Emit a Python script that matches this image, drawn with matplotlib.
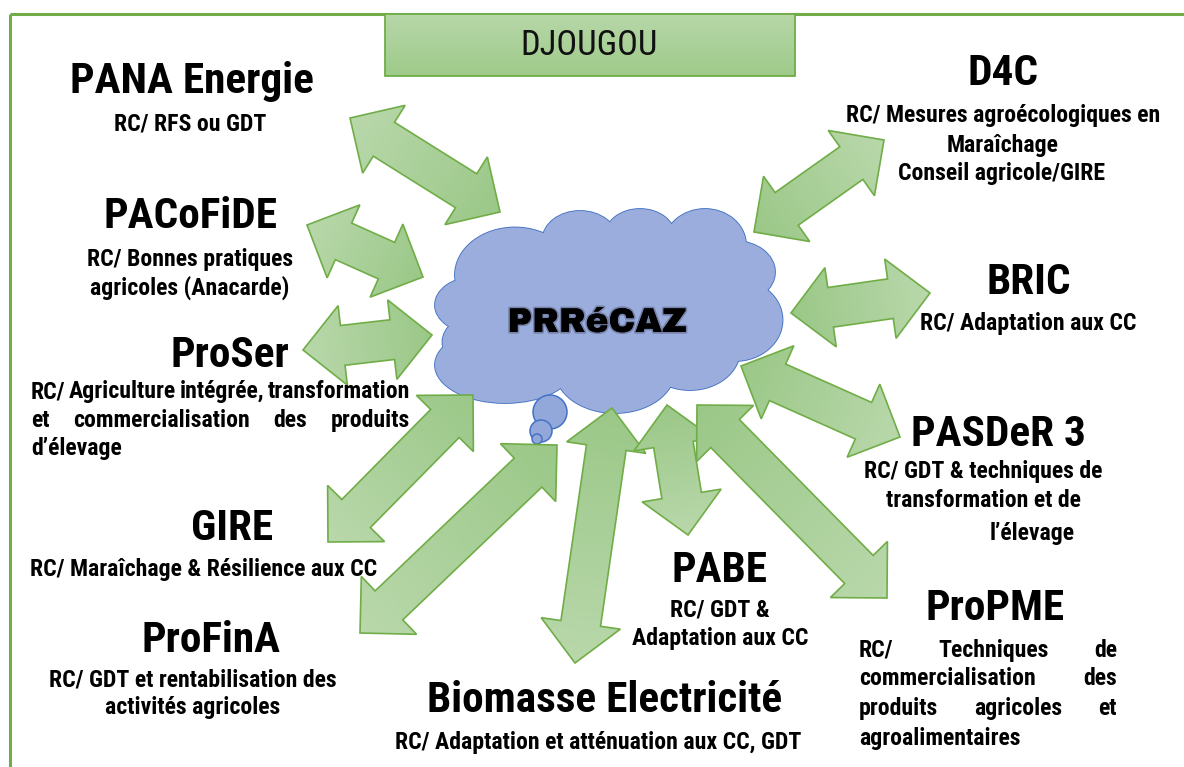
import numpy as np
import matplotlib
matplotlib.use("Agg")
import matplotlib.pyplot as plt
import matplotlib.patheffects as pe
from matplotlib.patches import Polygon, Ellipse, Circle
from matplotlib import font_manager

# ---- data -------------------------------------------------------------
hub_name = "PRRéCAZ"
region_name = "DJOUGOU"

partners = ["PANA Energie", "PACoFiDE", "ProSer", "GIRE", "ProFinA",
            "Biomasse Electricité", "PABE", "ProPME", "PASDeR 3", "BRIC", "D4C"]

descriptions = [
    ["RC/ RFS ou GDT"],
    ["RC/ Bonnes pratiques", "agricoles (Anacarde)"],
    ["RC/ Agriculture intégrée, transformation",
     "et commercialisation des produits", "d’élevage"],
    ["RC/ Maraîchage & Résilience aux CC"],
    ["RC/ GDT et rentabilisation des", "activités agricoles"],
    ["RC/ Adaptation et atténuation aux CC, GDT"],
    ["RC/ GDT &", "Adaptation aux CC"],
    ["RC/ Techniques de", "commercialisation des",
     "produits agricoles et", "agroalimentaires"],
    ["RC/ GDT & techniques de", "transformation et de", "l’élevage"],
    ["RC/ Adaptation aux CC"],
    ["RC/ Mesures agroécologiques en", "Maraîchage", "Conseil agricole/GIRE"],
]

# layout (pixel coordinates, y downwards, text given by baseline)
name_pos = [(192, 93), (190, 228), (230, 367), (232, 540), (211, 652),
            (605, 712), (720, 582), (995, 620), (998, 446), (1029, 294), (1003, 85)]
desc_x = [[190], [190, 190], None, [204], [193, 193], [598], [720, 720], None,
          [983, 983, 1032], [1028], [1003, 1003, 1002]]
desc_y = [[130], [266, 295], [398, 427, 455], [576], [686, 714], [749],
          [617, 645], [657, 685, 715, 745], [478, 507, 540], [330], [122, 152, 180]]
justify_span = {2: (31, 410), 7: (859, 1117)}

# arrows: outer tip -> tip near the cloud
arrow_outer = [(350, 118), (307, 225), (303, 350), (328, 542), (360, 633),
               (575, 663), (688, 535), (887, 598), (900, 437), (930, 293), (884, 140)]
arrow_inner = [(500, 212), (423, 277), (432, 335), (473, 395), (557, 445),
               (612, 408), (667, 405), (697, 405), (741, 366), (791, 313), (754, 232)]

# cloud lobes (cx, cy, w, h)
cloud_lobes = [(475, 305, 80, 56), (515, 275, 120, 95), (580, 240, 75, 58),
               (640, 236, 70, 54), (705, 245, 82, 72), (735, 272, 80, 62),
               (735, 320, 95, 82), (690, 350, 100, 80), (615, 370, 120, 86),
               (505, 365, 140, 76), (480, 342, 75, 56), (610, 305, 240, 150)]
bubbles = [(550, 412, 17), (541, 431, 11), (537, 439, 5)]

# ---- fonts ------------------------------------------------------------
installed = {f.name for f in font_manager.fontManager.ttflist}


def pick(cands):
    for c in cands:
        if c in installed:
            return c
    return "DejaVu Sans"


NARROW = [pick(["Liberation Sans Narrow", "Arial Narrow", "Roboto Condensed",
                "Archivo Narrow", "PT Sans Narrow", "Fira Sans Condensed",
                "IBM Plex Sans Condensed", "Liberation Sans"]), "DejaVu Sans"]
HEAVY = [pick(["Arial Black", "Archivo Black", "DejaVu Sans"]), "DejaVu Sans"]

GREEN_EDGE = "#70ad47"
LIGHT = np.array([185, 216, 171]) / 255
DARK = np.array([155, 200, 136]) / 255

fig = plt.figure(figsize=(11.84, 7.67), dpi=100)
ax = fig.add_axes([0, 0, 1, 1])
W, H = 1184, 767
ax.set_xlim(0, W)
ax.set_ylim(H, 0)
renderer = fig.canvas.get_renderer()


def fit_size(s, target_px, family, weight):
    t = ax.text(0, 0, s, fontsize=20, family=family, fontweight=weight)
    w = t.get_window_extent(renderer).width
    t.remove()
    return 20 * target_px / w


title_fs = fit_size("PANA Energie", 243, NARROW, "bold")
desc_fs = fit_size("RC/ Mesures agroécologiques en", 314, NARROW, "bold")
region_fs = fit_size(region_name, 137, NARROW, "normal")
hub_fs = fit_size(hub_name, 179, HEAVY, "heavy")


def gradient_fill(patch, p_from, p_to, c_from, c_to, z):
    xy = np.asarray(patch.get_xy())
    x0, y0 = xy.min(axis=0) - 2
    x1, y1 = xy.max(axis=0) + 2
    xs = np.linspace(x0, x1, 80)
    ys = np.linspace(y0, y1, 80)
    X, Y = np.meshgrid(xs, ys)
    d = np.array(p_to, float) - np.array(p_from, float)
    t = ((X - p_from[0]) * d[0] + (Y - p_from[1]) * d[1]) / (d @ d)
    t = np.clip(t, 0, 1)[..., None]
    img = c_from * (1 - t) + c_to * t
    im = ax.imshow(img, extent=(x0, x1, y0, y1), origin="lower",
                   interpolation="bilinear", zorder=z)
    im.set_clip_path(patch)


def arrow_polygon(p1, p2, hw=40, sw=20, hl=40):
    p1 = np.array(p1, float)
    p2 = np.array(p2, float)
    d = (p2 - p1) / np.linalg.norm(p2 - p1)
    n = np.array([-d[1], d[0]])
    b1 = p1 + d * hl
    b2 = p2 - d * hl
    return [p1, b1 + n * hw, b1 + n * sw, b2 + n * sw, b2 + n * hw,
            p2, b2 - n * hw, b2 - n * sw, b1 - n * sw, b1 - n * hw]


# frame
ax.plot([10, W], [14, 14], color=GREEN_EDGE, lw=2.2, zorder=1, solid_capstyle="butt")
ax.plot([10, 10], [14, H], color=GREEN_EDGE, lw=2.2, zorder=1, solid_capstyle="butt")

# title banner
banner = Polygon([(385, 14), (795, 14), (795, 76), (385, 76)], closed=True,
                 facecolor="none", edgecolor=GREEN_EDGE, lw=1.3, zorder=2.5)
ax.add_patch(banner)
gradient_fill(banner, (590, 14), (590, 76), np.array([183, 215, 168]) / 255,
              np.array([158, 203, 138]) / 255, 2)
ax.text(589, 55, region_name, ha="center", va="baseline", fontsize=region_fs,
        family=NARROW, color="#111111", zorder=3)

# cloud
for cx, cy, w, h in cloud_lobes[:-1]:
    ax.add_patch(Ellipse((cx, cy), w, h, facecolor="#9aaddc", edgecolor="#4472c4",
                         lw=1.3, zorder=4))
for cx, cy, w, h in cloud_lobes:
    ax.add_patch(Ellipse((cx, cy), w, h, facecolor="#9aaddc", edgecolor="none",
                         zorder=4.1))
for cx, cy, r in bubbles:
    ax.add_patch(Circle((cx, cy), r, facecolor="#93a8da", edgecolor="#4472c4",
                        lw=1.1, zorder=4.2))
ax.text(597, 332, hub_name, ha="center", va="baseline", fontsize=hub_fs,
        family=HEAVY, fontweight="heavy", color="black", zorder=4.5,
        path_effects=[pe.withStroke(linewidth=2.5, foreground=(0.2, 0.2, 0.3, 0.35))])

# arrows
for k, (po, pi) in enumerate(zip(arrow_outer, arrow_inner)):
    z = 5 + k * 0.1
    poly = Polygon(arrow_polygon(po, pi), closed=True, facecolor="none",
                   edgecolor=GREEN_EDGE, lw=1.2, zorder=z + 0.05, joinstyle="miter")
    ax.add_patch(poly)
    gradient_fill(poly, po, pi, LIGHT, DARK, z)

# labels
for k, name in enumerate(partners):
    x, y = name_pos[k]
    ax.text(x, y, name, ha="center", va="baseline", fontsize=title_fs,
            family=NARROW, fontweight="bold", color="black", zorder=8)
    lines = descriptions[k]
    if k in justify_span:
        xl, xr = justify_span[k]
        for j, line in enumerate(lines):
            yj = desc_y[k][j]
            words = line.split()
            if j == len(lines) - 1 or len(words) == 1:
                ax.text(xl, yj, line, ha="left", va="baseline", fontsize=desc_fs,
                        family=NARROW, fontweight="bold", zorder=8)
                continue
            objs = [ax.text(xl, yj, wd, ha="left", va="baseline", fontsize=desc_fs,
                            family=NARROW, fontweight="bold", zorder=8) for wd in words]
            widths = [o.get_window_extent(renderer).width for o in objs]
            gap = (xr - xl - sum(widths)) / (len(words) - 1)
            xc = xl
            for o, wdt in zip(objs, widths):
                o.set_x(xc)
                xc += wdt + gap
    else:
        for j, line in enumerate(lines):
            ax.text(desc_x[k][j], desc_y[k][j], line, ha="center", va="baseline",
                    fontsize=desc_fs, family=NARROW, fontweight="bold", zorder=8)

ax.set_xlim(0, W)
ax.set_ylim(H, 0)
ax.set_aspect("auto")
ax.axis("off")
fig.savefig("out.png", dpi=100, facecolor="white")
